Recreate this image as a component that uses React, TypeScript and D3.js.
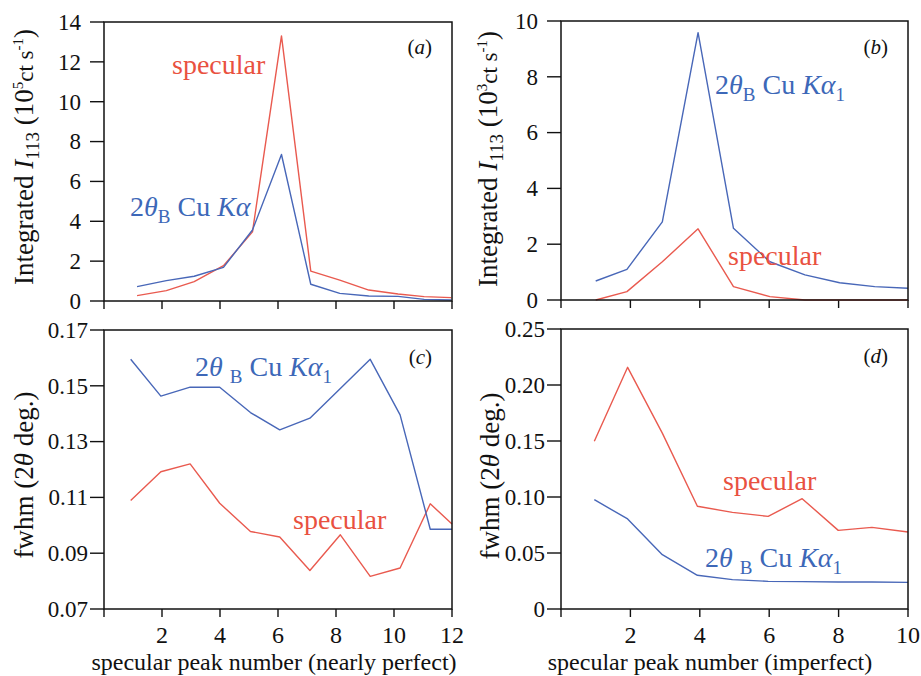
import * as d3 from "d3";
import React from "react";

// peak positions (they are not exactly on integers)
const xA = [1.14, 2.15, 3.11, 4.12, 5.12, 6.12, 7.13, 8.13, 9.13, 10.14, 11.04, 11.97];
const specA = [0.27, 0.52, 0.97, 1.77, 3.47, 13.3, 1.5, 1.05, 0.55, 0.35, 0.22, 0.17];
const cuA = [0.72, 1.02, 1.24, 1.69, 3.56, 7.35, 0.84, 0.38, 0.25, 0.23, 0.08, 0.05];

const xB = [1.0, 1.9, 2.92, 3.95, 4.97, 6.02, 7.03, 8.03, 9.04, 10];
const cuB = [0.68, 1.1, 2.8, 9.58, 2.57, 1.37, 0.9, 0.62, 0.48, 0.42];
const specB = [0.0, 0.3, 1.37, 2.55, 0.48, 0.12, 0.0, 0.0, 0.0, 0.0];

const xC = [0.92, 1.96, 2.97, 3.99, 5.05, 6.06, 7.1, 8.15, 9.18, 10.21, 11.25, 12.0];
const cuC = [0.1595, 0.1463, 0.1495, 0.1495, 0.1404, 0.1342, 0.1384, 0.149, 0.1595, 0.1396, 0.0986, 0.0986];
const specC = [0.1089, 0.1192, 0.122, 0.1079, 0.0978, 0.0958, 0.0838, 0.0966, 0.0817, 0.0847, 0.1077, 0.1005];

const xD = [0.96, 1.92, 2.92, 3.93, 4.94, 5.97, 6.95, 7.99, 8.96, 10];
const specD = [0.1497, 0.2158, 0.157, 0.0917, 0.0863, 0.0827, 0.0985, 0.0702, 0.0729, 0.0688];
const cuD = [0.0976, 0.0804, 0.0485, 0.0301, 0.0262, 0.0247, 0.0244, 0.0241, 0.0241, 0.0238];

const ticksA = [0, 2, 4, 6, 8, 10, 12, 14];
const ticksB = [0, 2, 4, 6, 8, 10];
const ticksC = [0.07, 0.09, 0.11, 0.13, 0.15, 0.17];
const ticksD = [0, 0.05, 0.1, 0.15, 0.2, 0.25];
const xTicks12 = [0, 2, 4, 6, 8, 10, 12];
const xTicks10 = [0, 2, 4, 6, 8, 10];

const red = "#e95a4f";
const blue = "#4867b8";
const redText = "#e9513f";
const blueText = "#3d68b8";
const ink = "#111";

const fmtInt = (d) => String(d);
const fmtDec = (d) => (d === 0 ? "0" : d3.format(".2f")(d));

function Panel({ p }) {
  const x = d3.scaleLinear().domain(p.xDomain).range([p.left, p.right]);
  const y = d3.scaleLinear().domain(p.yDomain).range([p.bottom, p.top]);
  const line = d3
    .line()
    .x((d, i) => x(p.xs[i]))
    .y((d) => y(d));

  return (
    <g>
      {/* y ticks */}
      {p.yTicks.map((t) => (
        <g key={"y" + t} transform={`translate(${p.left},${y(t)})`}>
          <line x1={-14} x2={0} stroke={ink} strokeWidth={1.4} />
          <text x={-14 - p.yPad} dy="0.34em" textAnchor="end" fontSize={23} fill={ink}>
            {p.yFmt(t)}
          </text>
        </g>
      ))}
      {/* x ticks */}
      {p.xTicks.map((t) => (
        <g key={"x" + t} transform={`translate(${x(t)},${p.bottom})`}>
          <line y1={0} y2={8} stroke={ink} strokeWidth={1.4} />
          {p.xLabels && t !== 0 ? (
            <text y={34} textAnchor="middle" fontSize={24} fill={ink}>
              {t}
            </text>
          ) : null}
        </g>
      ))}
      {p.series.map((s, i) => (
        <path
          key={i}
          d={line(s.values)}
          fill="none"
          stroke={s.color}
          strokeWidth={1.4}
          strokeLinejoin="round"
        />
      ))}
      <rect
        x={p.left}
        y={p.top}
        width={p.right - p.left}
        height={p.bottom - p.top}
        fill="none"
        stroke={ink}
        strokeWidth={1.5}
      />
      <text x={p.right - 20} y={p.letterY} textAnchor="end" fontSize={21} fill={ink}>
        (<tspan fontStyle="italic">{p.letter}</tspan>)
      </text>
    </g>
  );
}

function IntensityLabel({ cx, cy, exp }) {
  return (
    <text transform={`translate(${cx},${cy}) rotate(-90)`} textAnchor="middle" fontSize={27} fill={ink}>
      <tspan>Integrated </tspan>
      <tspan fontStyle="italic">I</tspan>
      <tspan fontSize={19} dy={6}>113</tspan>
      <tspan dy={-6}> (10</tspan>
      <tspan fontSize={15} dy={-10}>{exp}</tspan>
      <tspan fontSize={23} dy={10}>ct s</tspan>
      <tspan fontSize={15} dy={-10}>-1</tspan>
      <tspan dy={10}>)</tspan>
    </text>
  );
}

function FwhmLabel({ cx, cy }) {
  return (
    <text transform={`translate(${cx},${cy}) rotate(-90)`} textAnchor="middle" fontSize={27} fill={ink}>
      <tspan>fwhm (2</tspan>
      <tspan fontStyle="italic">θ</tspan>
      <tspan> deg.)</tspan>
    </text>
  );
}

function CuLabel({ x, y, sub1, spaced }) {
  return (
    <text x={x} y={y} fontSize={28} fill={blueText}>
      <tspan>2</tspan>
      <tspan fontStyle="italic">{spaced ? "θ " : "θ"}</tspan>
      <tspan fontSize={19} dy={7}>B</tspan>
      <tspan dy={-7}> Cu </tspan>
      <tspan fontStyle="italic">Kα</tspan>
      {sub1 ? (
        <tspan fontSize={19} dy={7}>1</tspan>
      ) : null}
    </text>
  );
}

function SpecLabel({ x, y }) {
  return (
    <text x={x} y={y} fontSize={28} fill={redText}>
      specular
    </text>
  );
}

const panelA = {
  left: 104, right: 452, top: 22, bottom: 301,
  xDomain: [0, 12], yDomain: [0, 14],
  yTicks: ticksA, xTicks: xTicks12, yPad: 9, yFmt: fmtInt,
  xLabels: false, xs: xA, letter: "a", letterY: 54,
  series: [
    { values: specA, color: red },
    { values: cuA, color: blue },
  ],
};

const panelB = {
  left: 561, right: 908, top: 21, bottom: 300,
  xDomain: [0, 10], yDomain: [0, 10],
  yTicks: ticksB, xTicks: xTicks10, yPad: 9, yFmt: fmtInt,
  xLabels: false, xs: xB, letter: "b", letterY: 54,
  series: [
    { values: specB, color: red },
    { values: cuB, color: blue },
  ],
};

const panelC = {
  left: 104, right: 452, top: 330, bottom: 609,
  xDomain: [0, 12], yDomain: [0.07, 0.17],
  yTicks: ticksC, xTicks: xTicks12, yPad: 2, yFmt: fmtDec,
  xLabels: true, xs: xC, letter: "c", letterY: 364,
  series: [
    { values: specC, color: red },
    { values: cuC, color: blue },
  ],
};

const panelD = {
  left: 561, right: 908, top: 329, bottom: 609,
  xDomain: [0, 10], yDomain: [0, 0.25],
  yTicks: ticksD, xTicks: xTicks10, yPad: 2, yFmt: fmtDec,
  xLabels: true, xs: xD, letter: "d", letterY: 363,
  series: [
    { values: specD, color: red },
    { values: cuD, color: blue },
  ],
};

export default function App() {
  return (
    <div style={{ position: "absolute", left: 0, top: 0 }}>
      <svg
        width={921}
        height={676}
        style={{ display: "block", background: "#fff", fontFamily: "Liberation Serif" }}
      >
        <Panel p={panelA} />
        <IntensityLabel cx={33} cy={157} exp="5" />
        <SpecLabel x={172} y={74} />
        <CuLabel x={130} y={216} sub1={false} spaced={false} />

        <Panel p={panelB} />
        <IntensityLabel cx={497} cy={159} exp="3" />
        <CuLabel x={715} y={94} sub1={true} spaced={false} />
        <SpecLabel x={728} y={265} />

        <Panel p={panelC} />
        <FwhmLabel cx={33} cy={475} />
        <CuLabel x={195} y={376} sub1={true} spaced={true} />
        <SpecLabel x={293} y={529} />

        <Panel p={panelD} />
        <FwhmLabel cx={499} cy={476} />
        <SpecLabel x={723} y={490} />
        <CuLabel x={705} y={567} sub1={true} spaced={true} />

        <text x={274} y={670} textAnchor="middle" fontSize={24} fill={ink}>
          specular peak number (nearly perfect)
        </text>
        <text x={710} y={670} textAnchor="middle" fontSize={24} fill={ink}>
          specular peak number (imperfect)
        </text>
      </svg>
    </div>
  );
}
